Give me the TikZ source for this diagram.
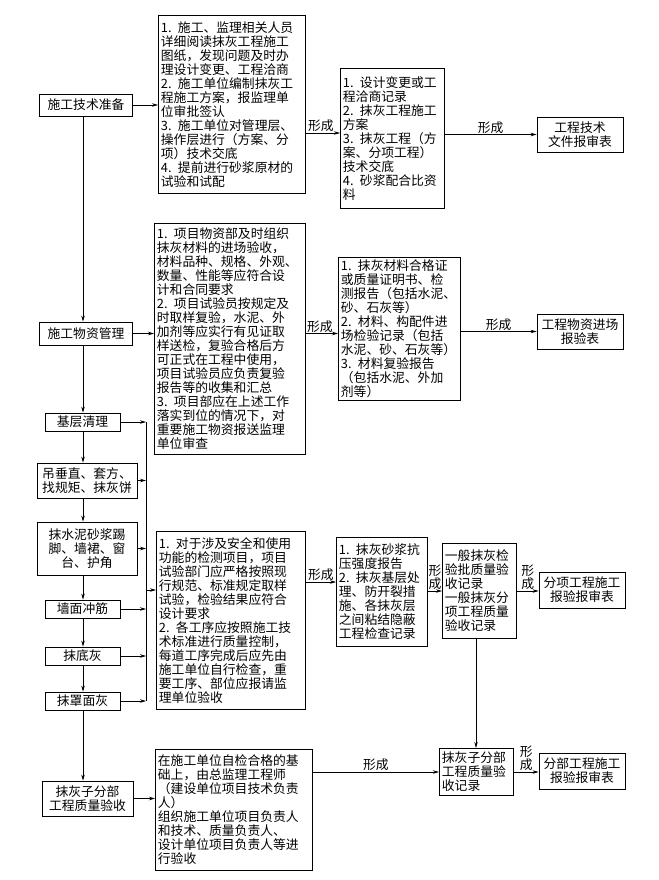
\documentclass[tikz,border=0pt]{standalone}
\usepackage{fontspec}
\setmainfont{Noto Sans CJK SC}
\usetikzlibrary{arrows.meta}
\begin{document}
\begin{tikzpicture}[x=1pt,y=-1pt,
  bx/.style={draw,line width=0.8pt,inner sep=2.5pt,font=\fontsize{12.8}{14}\selectfont},
  tb/.style={bx,align=left,anchor=north west,text width=#1},
  cb/.style={bx,align=center},
  arr/.style={line width=0.7pt,-{Stealth[length=6pt,width=3.5pt]}},
  ln/.style={line width=0.7pt},
  lb/.style={font=\fontsize{12.8}{14}\selectfont,inner sep=1pt,align=center}]
\useasboundingbox (0,0) rectangle (658,880);
% left column
\node[cb,minimum width=93,minimum height=22] (tech) at (86,105) {施工技术准备};
\node[cb,minimum width=93,minimum height=23] (wz) at (86,333.5) {施工物资管理};
\node[cb,minimum width=75,minimum height=18] (jc) at (82.5,422) {基层清理};
\node[cb,minimum width=100,minimum height=35] (dc) at (87,480.5) {吊垂直、套方、\\找规矩、抹灰饼};
\node[cb,minimum width=100,minimum height=53] (ms) at (87,548.5) {抹水泥砂浆踢\\脚、墙裙、窗\\台、护角};
\node[cb,minimum width=75,minimum height=18] (qm) at (82.5,609) {墙面冲筋};
\node[cb,minimum width=75,minimum height=18] (md) at (82.5,656) {抹底灰};
\node[cb,minimum width=75,minimum height=18] (mz) at (82.5,701) {抹罩面灰};
\node[cb,minimum width=91,minimum height=35] (zfb) at (87.5,798.5) {抹灰子分部\\工程质量验收};
% middle boxes
\node[tb=142,minimum height=178] (b1) at (158,15) {1. 施工、监理相关人员\\详细阅读抹灰工程施工\\图纸，发现问题及时办\\理设计变更、工程洽商\\2. 施工单位编制抹灰工\\程施工方案，报监理单\\位审批签认\\3. 施工单位对管理层、\\操作层进行（方案、分\\项）技术交底\\4. 提前进行砂浆原材的\\试验和试配};
\node[tb=146,minimum height=231] (b2) at (154,223) {1. 项目物资部及时组织\\抹灰材料的进场验收，\\材料品种、规格、外观、\\数量、性能等应符合设\\计和合同要求\\2. 项目试验员按规定及\\时取样复验，水泥、外\\加剂等应实行有见证取\\样送检，复验合格后方\\可正式在工程中使用，\\项目试验员应负责复验\\报告等的收集和汇总\\3. 项目部应在上述工作\\落实到位的情况下，对\\重要施工物资报送监理\\单位审查};
\node[tb=144,minimum height=178] (b3) at (156,531) {1. 对于涉及安全和使用\\功能的检测项目，项目\\试验部门应严格按照现\\行规范、标准规定取样\\试验，检验结果应符合\\设计要求\\2. 各工序应按照施工技\\术标准进行质量控制，\\每道工序完成后应先由\\施工单位自行检查，重\\要工序、部位应报请监\\理单位验收};
\node[tb=152,minimum height=121] (b4) at (155,749) {在施工单位自检合格的基\\础上，由总监理工程师\\（建设单位项目技术负责\\人）\\组织施工单位项目负责人\\和技术、质量负责人、\\设计单位项目负责人等进\\行验收};
% right records
\node[tb=99,minimum height=140] (rec1) at (340,68) {1. 设计变更或工\\程洽商记录\\2. 抹灰工程施工\\方案\\3. 抹灰工程（方\\案、分项工程）\\技术交底\\4. 砂浆配合比资\\料};
\node[tb=117,minimum height=136] (rec2) at (338,257) {1. 抹灰材料合格证\\或质量证明书、检\\测报告（包括水泥、\\砂、石灰等）\\2. 材料、构配件进\\场检验记录（包括\\水泥、砂、石灰等）\\3. 材料复验报告\\（包括水泥、外加\\剂等）};
\node[tb=86,minimum height=109] (b5) at (336,537) {1. 抹灰砂浆抗\\压强度报告\\2. 抹灰基层处\\理、防开裂措\\施、各抹灰层\\之间粘结隐蔽\\工程检查记录};
\node[tb=69,minimum height=95] (b6) at (442,543) {一般抹灰检\\验批质量验\\收记录\\一般抹灰分\\项工程质量\\验收记录};
\node[tb=69,minimum height=47] (rec) at (439,748) {抹灰子分部\\工程质量验\\收记录};
\node[cb,minimum width=86,minimum height=35] (tf) at (580,134.5) {工程技术\\文件报审表};
\node[cb,minimum width=86,minimum height=35] (wzb) at (580,331.5) {工程物资进场\\报验表};
\node[cb,minimum width=86,minimum height=36] (fx) at (582,590) {分项工程施工\\报验报审表};
\node[cb,minimum width=86,minimum height=36] (fb) at (582,771) {分部工程施工\\报验报审表};
% connectors: left spine
\draw[arr] (tech) -- (tech -| b1.west);
\draw[arr] (tech.south -| 83,0) -- (wz.north -| 83,0);
\draw[arr] (wz) -- (wz -| b2.west);
\draw[arr] (wz.south -| 83,0) -- (jc.north -| 83,0);
\draw[arr] (jc.south -| 83,0) -- (dc.north -| 83,0);
\draw[arr] (dc.south -| 83,0) -- (ms.north -| 83,0);
\draw[arr] (ms.south -| 83,0) -- (qm.north -| 83,0);
\draw[arr] (qm.south -| 83,0) -- (md.north -| 83,0);
\draw[arr] (md.south -| 83,0) -- (mz.north -| 83,0);
\draw[arr] (mz.south -| 83,0) -- (zfb.north -| 83,0);
% feeders into bus
\coordinate (bt) at (146,422);
\coordinate (bb) at (146,701);
\draw[ln] (bt) -- (bb);
\draw[arr] (jc) -- (jc -| bt);
\draw[arr] (dc) -- (dc -| bt);
\draw[arr] (ms) -- (ms -| bt);
\draw[arr] (qm) -- (qm -| bt);
\draw[arr] (md) -- (md -| bt);
\draw[arr] (mz) -- (mz -| bt);
\coordinate (bm) at (146,590);
\draw[arr] (bm) -- (bm -| b3.west);
\draw[arr] (zfb) -- (zfb -| b4.west);
% forming arrows
\coordinate (y1) at (0,133);
\draw[arr] (b1.east |- y1) -- node[lb,above,xshift=-2pt] {形成} (rec1.west |- y1);
\draw[arr] (rec1.east |- tf) -- node[lb,above] {形成} (tf.west);
\draw[arr] (b2.east |- wz) -- node[lb,above,xshift=-2pt] {形成} (rec2.west |- wz);
\draw[arr] (rec2.east |- wzb) -- node[lb,above] {形成} (wzb.west);
\coordinate (y3) at (0,582);
\draw[arr] (b3.east |- y3) -- node[lb,above] {形成} (b5.west |- y3);
\coordinate (y5) at (0,591);
\draw[arr] (b5.east |- y5) -- node[lb,above,font=\fontsize{12.8}{13}\selectfont] {形\\成} (b6.west |- y5);
\draw[arr] (b6.east |- y5) -- node[lb,above,font=\fontsize{12.8}{13}\selectfont] {形\\成} (fx.west |- y5);
\draw[arr] (476,0 |- b6.south) -- (476,0 |- rec.north);
\coordinate (y7) at (0,772);
\draw[arr] (b4.east |- y7) -- node[lb,above] {形成} (rec.west |- y7);
\draw[arr] (rec.east |- y7) -- node[lb,above,font=\fontsize{12.8}{13}\selectfont] {形\\成} (fb.west |- y7);
\end{tikzpicture}
\end{document}
